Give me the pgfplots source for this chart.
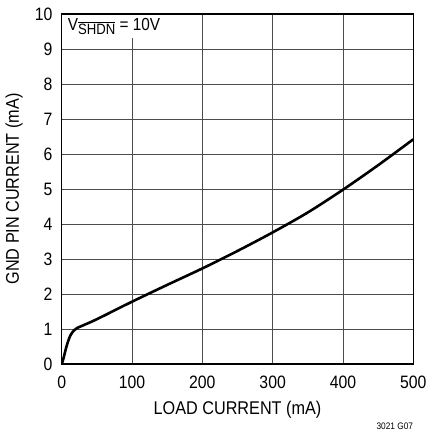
\documentclass[border=0pt]{standalone}
\usepackage{pgfplots}
\pgfplotsset{compat=1.18}
\usepackage{fontspec}
\setmainfont{Liberation Sans}[FakeStretch=0.88]
\begin{document}
\begin{tikzpicture}
\begin{axis}[
  scale only axis,
  width=351.6bp, height=350bp,
  xmin=0, xmax=500, ymin=0, ymax=10,
  xtick={0,100,...,500}, ytick={0,1,...,10},
  major tick length=0pt,
  grid=major,
  major grid style={draw=black!70, line width=0.8bp},
  axis line style={line width=1.2bp},
  /pgf/number format/assume math mode=true,
  ticklabel style={font=\fontsize{18}{20}\selectfont},
  yticklabel style={inner sep=0pt, anchor=east, xshift=-9bp},
  xticklabel style={inner sep=0pt, anchor=north, yshift=-12bp},
  xlabel={LOAD CURRENT (mA)},
  ylabel={GND PIN CURRENT (mA)},
  label style={font=\fontsize{18.5}{20}\selectfont},
  xlabel style={at={(axis description cs:0.5,-0.131)}, anchor=center},
  ylabel style={at={(axis description cs:-0.1357,0.5)}, anchor=center, rotate=0},
]
\addplot[black, line width=2.6bp, smooth, tension=0.5] coordinates {
(0,0) (2,0.12) (4,0.28) (6,0.44) (8,0.58) (10,0.7) (12,0.8) (15,0.9) (18,0.97) (22,1.03) (30,1.1) (50,1.28) (100,1.78) (150,2.26) (200,2.73) (250,3.23) (300,3.76) (350,4.33) (400,4.98) (450,5.68) (500,6.42)
};
\node[fill=white, anchor=north west, inner xsep=5bp, inner ysep=3bp, xshift=1bp, yshift=-1bp,
  font=\fontsize{17.5}{19}\selectfont]
  at (rel axis cs:0,1) {V\raisebox{-0.45ex}{\fontsize{15}{16}\selectfont$\overline{\hbox{SHDN}}$} = 10V};
\end{axis}
\node[anchor=east, font=\fontsize{9.5}{10}\selectfont, inner sep=0pt] at ([yshift=-62bp]current axis.south east) {3021 G07};
\pgfresetboundingbox
\path[use as bounding box] ([shift={(-61.7bp,-73bp)}]current axis.south west) rectangle ([shift={(14.7bp,14bp)}]current axis.north east);
\end{tikzpicture}
\end{document}
